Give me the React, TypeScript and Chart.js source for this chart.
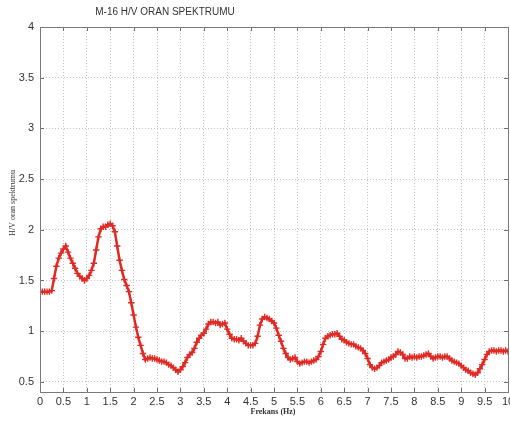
import React, { useEffect, useRef } from "react";
import { Chart, registerables } from "chart.js";

Chart.register(...registerables);

// Frequency sampling of the H/V curve (Hz)
const FREQ_START = 0;
const FREQ_STEP = 0.05;

// H/V ratio values, one per FREQ_STEP from 0 to 10 Hz
const hvRatio = [
  1.39, 1.39, 1.39, 1.39, 1.39, 1.40, 1.52, 1.64, 1.72, 1.77,
  1.81, 1.84, 1.78, 1.72, 1.67, 1.62, 1.57, 1.54, 1.52, 1.50,
  1.52, 1.55, 1.60, 1.67, 1.80, 1.93, 2.01, 2.03, 2.03, 2.05,
  2.06, 2.04, 1.98, 1.84, 1.70, 1.60, 1.51, 1.45, 1.39, 1.28,
  1.16, 1.04, 0.94, 0.86, 0.78, 0.72, 0.73, 0.74, 0.73, 0.73,
  0.72, 0.71, 0.70, 0.70, 0.69, 0.67, 0.66, 0.64, 0.62, 0.60,
  0.62, 0.65, 0.69, 0.74, 0.77, 0.79, 0.83, 0.89, 0.93, 0.96,
  0.98, 1.02, 1.07, 1.09, 1.09, 1.08, 1.09, 1.06, 1.07, 1.08,
  1.02, 0.97, 0.93, 0.92, 0.92, 0.91, 0.93, 0.90, 0.88, 0.86,
  0.86, 0.86, 0.88, 0.95, 1.06, 1.12, 1.14, 1.13, 1.12, 1.10,
  1.08, 1.03, 0.96, 0.90, 0.83, 0.78, 0.74, 0.72, 0.73, 0.74,
  0.70, 0.68, 0.69, 0.70, 0.70, 0.69, 0.70, 0.71, 0.72, 0.75,
  0.80, 0.87, 0.93, 0.95, 0.96, 0.97, 0.97, 0.98, 0.95, 0.92,
  0.91, 0.89, 0.88, 0.87, 0.87, 0.85, 0.84, 0.83, 0.81, 0.78,
  0.73, 0.67, 0.64, 0.63, 0.64, 0.66, 0.69, 0.70, 0.71, 0.72,
  0.74, 0.75, 0.77, 0.80, 0.79, 0.77, 0.73, 0.73, 0.75, 0.74,
  0.75, 0.74, 0.75, 0.75, 0.76, 0.77, 0.78, 0.75, 0.73, 0.74,
  0.75, 0.75, 0.74, 0.75, 0.75, 0.73, 0.71, 0.70, 0.69, 0.68,
  0.66, 0.64, 0.62, 0.61, 0.59, 0.58, 0.57, 0.59, 0.63, 0.67,
  0.72, 0.77, 0.80, 0.81, 0.81, 0.80, 0.81, 0.81, 0.80, 0.81,
  0.80,
];

const xTickValues = [0, 0.5, 1, 1.5, 2, 2.5, 3, 3.5, 4, 4.5, 5, 5.5, 6, 6.5, 7, 7.5, 8, 8.5, 9, 9.5, 10];
const yTickValues = [0.5, 1, 1.5, 2, 2.5, 3, 3.5, 4];

const TITLE = "M-16 H/V ORAN SPEKTRUMU";
const X_TITLE = "Frekans (Hz)";
const Y_TITLE = "H/V oran spektrumu";

const X_MIN = 0;
const X_MAX = 10;
const Y_MIN = 0.4;
const Y_MAX = 4;

const LINE_RED = "#e02a24";
const TEXT = "#333333";
const SANS = '"Liberation Sans", Arial, Helvetica, sans-serif';
const SERIF = '"Liberation Serif", "Times New Roman", serif';

const framePlugin = {
  id: "matlabFrame",
  afterDraw(chart: any) {
    const { ctx, chartArea: a, scales } = chart;
    ctx.save();
    // inward tick marks
    ctx.strokeStyle = "#6e6e6e";
    ctx.lineWidth = 1;
    ctx.beginPath();
    for (const v of xTickValues) {
      const x = Math.round(scales.x.getPixelForValue(v)) + 0.5;
      ctx.moveTo(x, a.bottom);
      ctx.lineTo(x, a.bottom - 4);
      ctx.moveTo(x, a.top);
      ctx.lineTo(x, a.top + 4);
    }
    for (const v of yTickValues) {
      const y = Math.round(scales.y.getPixelForValue(v)) + 0.5;
      ctx.moveTo(a.left, y);
      ctx.lineTo(a.left + 4, y);
      ctx.moveTo(a.right, y);
      ctx.lineTo(a.right - 4, y);
    }
    ctx.stroke();
    // box
    ctx.strokeStyle = "#7a7a7a";
    ctx.strokeRect(Math.round(a.left) + 0.5, Math.round(a.top) + 0.5, Math.round(a.right - a.left), Math.round(a.bottom - a.top));

    // title
    ctx.fillStyle = TEXT;
    ctx.font = `10px ${SANS}`;
    ctx.textAlign = "center";
    ctx.textBaseline = "middle";
    ctx.fillText(TITLE, 165, 12);

    // x title
    ctx.font = `bold 8px ${SERIF}`;
    ctx.fillText(X_TITLE, 273, 412);

    // y title
    ctx.translate(13, 203);
    ctx.rotate(-Math.PI / 2);
    ctx.font = `8px ${SERIF}`;
    ctx.fillText(Y_TITLE, 0, 0);
    ctx.restore();
  },
};

export default function App() {
  const canvasRef = useRef<HTMLCanvasElement | null>(null);

  useEffect(() => {
    const canvas = canvasRef.current;
    if (!canvas) return;
    const points = hvRatio.map((v, i) => ({ x: FREQ_START + i * FREQ_STEP, y: v }));
    const chart = new Chart(canvas, {
      type: "line",
      data: {
        datasets: [
          {
            data: points,
            borderColor: LINE_RED,
            backgroundColor: LINE_RED,
            borderWidth: 2.5,
            pointStyle: "cross",
            pointRadius: 3.2,
            pointBorderWidth: 1.4,
            pointBorderColor: LINE_RED,
            tension: 0,
            fill: false,
          },
        ],
      },
      options: {
        animation: false,
        responsive: false,
        devicePixelRatio: 1,
        layout: { padding: { left: 0, top: 27, right: 32, bottom: 0 } },
        plugins: { legend: { display: false }, tooltip: { enabled: false }, title: { display: false } },
        scales: {
          x: {
            type: "linear",
            min: X_MIN,
            max: X_MAX,
            afterBuildTicks: (s: any) => {
              s.ticks = xTickValues.map((v) => ({ value: v }));
            },
            afterFit: (s: any) => {
              s.height = 31;
            },
            ticks: {
              autoSkip: false,
              maxRotation: 0,
              padding: 3,
              color: TEXT,
              font: { size: 11, family: SANS },
              callback: (v: any) => String(v),
            },
            grid: { color: "#c4c4c4", lineWidth: 1, drawTicks: false },
            border: { display: false, dash: [1, 2] },
          },
          y: {
            type: "linear",
            min: Y_MIN,
            max: Y_MAX,
            afterBuildTicks: (s: any) => {
              s.ticks = yTickValues.map((v) => ({ value: v }));
            },
            afterFit: (s: any) => {
              s.width = 40;
            },
            ticks: {
              autoSkip: false,
              padding: 6,
              color: TEXT,
              font: { size: 11, family: SANS },
              callback: (v: any) => String(v),
            },
            grid: { color: "#c4c4c4", lineWidth: 1, drawTicks: false },
            border: { display: false, dash: [1, 2] },
          },
        },
      },
      plugins: [framePlugin],
    });
    return () => chart.destroy();
  }, []);

  return (
    <div style={{ position: "fixed", left: 0, top: 0, width: 510, height: 423, overflow: "hidden", background: "#fff" }}>
      <canvas ref={canvasRef} width={540} height={423} style={{ display: "block", width: 540, height: 423 }} />
    </div>
  );
}
